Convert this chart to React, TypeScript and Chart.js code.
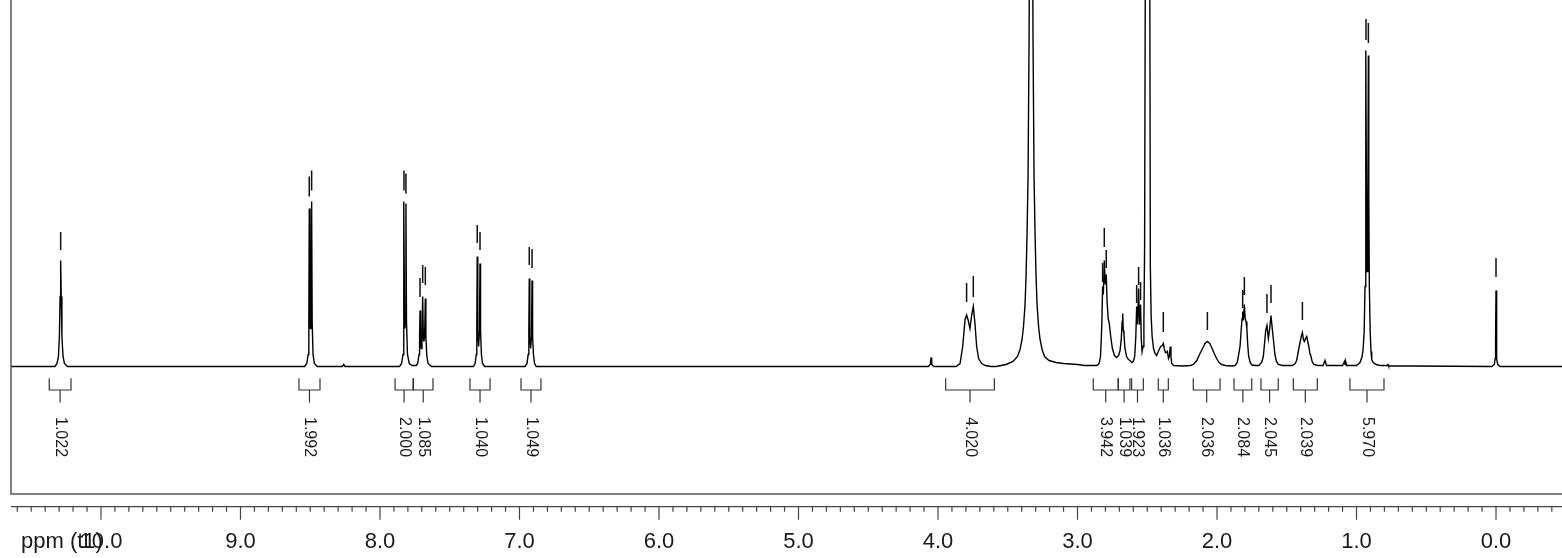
import { useEffect, useRef } from "react";
import { Chart, registerables } from "chart.js";

Chart.register(...registerables);

// ---- axis range (ppm) ----
const PPM_LEFT = 10.645;
const PPM_RIGHT = -0.473;
const majorTickValues = [10, 9, 8, 7, 6, 5, 4, 3, 2, 1, 0];
const majorTickLabels = ["10.0", "9.0", "8.0", "7.0", "6.0", "5.0", "4.0", "3.0", "2.0", "1.0", "0.0"];
const axisTitle = "ppm (t1)";

// ---- spectrum vertices [ppm, intensity] ----
const seg10: number[][] = [[10.645,0],[10.33,0],[10.315,3],[10.305,10],[10.298,30],[10.293,70],[10.289,106],[10.285,70],[10.28,30],[10.272,10],[10.262,3],[10.24,0]];
const seg85: number[][] = [[8.54,0],[8.525,3],[8.515,12],[8.51,45],[8.507,158],[8.502,45],[8.4985,38],[8.495,45],[8.49,165],[8.486,45],[8.48,12],[8.47,3],[8.45,0],[8.27,0],[8.26,2],[8.25,0]];
const seg78: number[][] = [[7.86,0],[7.845,3],[7.835,12],[7.831,45],[7.828,165],[7.824,45],[7.821,38],[7.818,45],[7.814,163],[7.81,45],[7.803,12],[7.79,3],[7.77,1],[7.74,1],[7.73,3],[7.72,12],[7.716,30],[7.713,56],[7.709,25],[7.704,18],[7.699,30],[7.694,70],[7.689,28],[7.685,25],[7.68,30],[7.675,68],[7.671,30],[7.664,10],[7.655,3],[7.63,0]];
const seg73: number[][] = [[7.33,0],[7.318,3],[7.31,12],[7.306,40],[7.303,110],[7.299,35],[7.293,20],[7.287,35],[7.283,103],[7.279,35],[7.273,12],[7.265,3],[7.25,0]];
const seg69: number[][] = [[6.96,0],[6.946,3],[6.938,12],[6.933,35],[6.93,88],[6.926,30],[6.92,18],[6.914,30],[6.91,86],[6.906,30],[6.9,12],[6.892,3],[6.88,0]];
const seg38: number[][] = [[4.07,0],[4.055,2],[4.05,9],[4.045,2],[4.03,0],[3.87,0],[3.842,3],[3.823,20],[3.806,47],[3.795,51.5],[3.783,46],[3.771,38],[3.759,51],[3.747,60],[3.735,43],[3.723,20],[3.709,8],[3.687,3],[3.66,1],[3.62,0]];
const segWater: number[][] = [[3.583,0],[3.512,2],[3.462,5],[3.43,10],[3.412,17],[3.3975,27],[3.387,40],[3.376,62],[3.369,90],[3.362,130],[3.3545,190],[3.347,330],[3.34,600],[3.333,900],[3.326,600],[3.319,330],[3.3115,190],[3.304,130],[3.297,90],[3.29,62],[3.279,40],[3.2685,27],[3.254,17],[3.236,10],[3.204,6],[3.154,4],[3.1,3],[3.0,2],[2.95,1]];
const seg28: number[][] = [[2.86,1],[2.845,3],[2.835,10],[2.826,40],[2.82,80],[2.815,72],[2.808,106],[2.801,82],[2.794,92],[2.788,65],[2.78,48],[2.772,43],[2.762,30],[2.75,18],[2.735,11],[2.72,9],[2.705,11],[2.695,16],[2.686,28],[2.68,45],[2.676,53],[2.672,36],[2.667,33],[2.66,18],[2.648,10],[2.635,7],[2.624,6],[2.61,4],[2.6,5],[2.59,10],[2.582,30],[2.576,60],[2.57,42],[2.562,78],[2.556,42],[2.548,62],[2.543,28],[2.537,15],[2.53,20],[2.524,45]];
const segDmso: number[][] = [[2.519,120],[2.514,400],[2.509,1500],[2.498,5000],[2.487,1500],[2.482,400],[2.478,100],[2.472,50],[2.465,30],[2.455,18],[2.444,13],[2.433,11],[2.421,15],[2.404,20],[2.392,21],[2.385,23],[2.378,18],[2.37,14],[2.362,14],[2.356,15],[2.348,8],[2.342,10],[2.335,20],[2.33,10],[2.325,3],[2.31,1],[2.25,0.5]];
const seg20: number[][] = [[2.19,1],[2.17,2],[2.145,6],[2.122,13],[2.1,19],[2.086,23],[2.069,25],[2.052,23],[2.038,19],[2.02,13],[2.003,8],[1.985,4],[1.966,2],[1.94,1],[1.9,0.5]];
const seg18: number[][] = [[1.87,1],[1.855,4],[1.847,10],[1.835,20],[1.826,38],[1.82,48],[1.816,55],[1.811,46],[1.804,62],[1.798,48],[1.792,45],[1.786,38],[1.78,22],[1.773,10],[1.762,4],[1.75,1.5],[1.72,1]];
const seg16: number[][] = [[1.7,1],[1.68,4],[1.668,10],[1.658,25],[1.651,36],[1.642,41],[1.632,28],[1.622,38],[1.613,51],[1.604,38],[1.595,26],[1.585,12],[1.574,5],[1.56,2],[1.53,1]];
const seg14: number[][] = [[1.46,1],[1.44,3],[1.429,6],[1.417,15],[1.405,24],[1.394,31],[1.388,34],[1.38,27],[1.374,25],[1.365,28],[1.357,30],[1.348,24],[1.342,20],[1.334,13],[1.328,11],[1.318,5],[1.305,2],[1.28,1],[1.24,1],[1.226,6],[1.215,1],[1.1,1],[1.086,5],[1.082,2],[1.078,5],[1.07,1]];
const seg09: number[][] = [[1.0,1],[0.975,4],[0.96,10],[0.953,17],[0.945,35],[0.939,80],[0.935,180],[0.932,316],[0.928,150],[0.9235,95],[0.919,150],[0.915,311],[0.912,170],[0.908,80],[0.902,35],[0.896,15],[0.891,7],[0.88,4],[0.86,2],[0.83,1],[0.78,1],[0.774,2],[0.77,0.5],[0.6,0.5]];
const seg00: number[][] = [[0.03,0],[0.012,2],[0.006,8],[0.003,30],[0.0,76],[-0.003,30],[-0.006,8],[-0.012,2],[-0.03,0],[-0.473,0]];

// ---- peak-pick marks [ppm, bottom, top] ----
const peakMarks: number[][] = [
  [10.289,116.5,134.5],
  [8.507,170,190],[8.49,176,196],
  [7.828,176,196],[7.814,173,193],
  [7.713,69.5,88.5],[7.694,83.5,101.5],[7.675,81.5,99.5],
  [7.303,123.5,141.5],[7.283,116.5,134.5],
  [6.93,101.5,119.5],[6.91,98.5,117.5],
  [3.795,64.5,83.5],[3.747,69.5,90.5],
  [2.82,84.5,103.5],[2.808,119.5,138.5],[2.794,98.5,116.5],
  [2.576,63.5,81.5],[2.562,81.5,99.5],[2.548,66.5,84.5],
  [2.385,34.5,54.5],
  [2.069,36.5,54.5],
  [1.816,58.5,76.5],[1.804,71.5,89.5],
  [1.642,53.5,72.5],[1.613,63.5,81.5],
  [1.388,46.5,64.5],
  [0.932,326.5,347.5],[0.915,323.5,343.5],
  [0.0,89.5,108.5],
];

// ---- integrals ----
const integralFrom = [10.371, 8.581, 7.892, 7.760, 7.355, 6.989, 3.945, 2.887, 2.708, 2.612, 2.421, 2.170, 1.878, 1.685, 1.453, 1.047];
const integralTo   = [10.215, 8.430, 7.763, 7.620, 7.211, 6.846, 3.596, 2.708, 2.624, 2.528, 2.349, 1.978, 1.751, 1.561, 1.281, 0.803];
const integralLabels = ["1.022", "1.992", "2.000", "1.085", "1.040", "1.049", "4.020", "3.942", "1.039", "1.923", "1.036", "2.036", "2.084", "2.045", "2.039", "5.970"];

const spectrum = [
  ...seg10, ...seg85, ...seg78, ...seg73, ...seg69, ...seg38, ...segWater,
  ...seg28, ...segDmso, ...seg20, ...seg18, ...seg16, ...seg14, ...seg09, ...seg00,
].map(([x, y]) => ({ x, y }));

const FONT = '"Liberation Sans", Arial, Helvetica, sans-serif';

const overlayPlugin = {
  id: "nmrOverlay",
  afterDraw(chart: any) {
    const ctx: CanvasRenderingContext2D = chart.ctx;
    const xs = chart.scales.x;
    const ys = chart.scales.y;
    const area = chart.chartArea;
    ctx.save();

    // frame (left + bottom)
    ctx.strokeStyle = "#555";
    ctx.lineWidth = 1.5;
    ctx.beginPath();
    ctx.moveTo(area.left, area.top);
    ctx.lineTo(area.left, area.bottom);
    ctx.lineTo(area.right + 2, area.bottom);
    ctx.stroke();

    // peak marks
    ctx.strokeStyle = "#111";
    ctx.lineWidth = 1.5;
    ctx.beginPath();
    for (const [p, lo, hi] of peakMarks) {
      const x = xs.getPixelForValue(p);
      ctx.moveTo(x, ys.getPixelForValue(lo));
      ctx.lineTo(x, ys.getPixelForValue(hi));
    }
    ctx.stroke();

    // integral brackets
    const yb = ys.getPixelForValue(0);
    ctx.strokeStyle = "#333";
    ctx.lineWidth = 1.2;
    ctx.fillStyle = "#1a1a1a";
    ctx.font = `16px ${FONT}`;
    for (let i = 0; i < integralLabels.length; i++) {
      const xl = xs.getPixelForValue(integralFrom[i]);
      const xr = xs.getPixelForValue(integralTo[i]);
      const xm = (xl + xr) / 2;
      ctx.beginPath();
      ctx.moveTo(xl, yb + 11.8);
      ctx.lineTo(xl, yb + 23.5);
      ctx.lineTo(xr, yb + 23.5);
      ctx.lineTo(xr, yb + 11.8);
      ctx.moveTo(xm, yb + 23.5);
      ctx.lineTo(xm, yb + 36);
      ctx.stroke();
      ctx.save();
      ctx.translate(xm, yb + 50.5);
      ctx.rotate(Math.PI / 2);
      ctx.textAlign = "left";
      ctx.textBaseline = "middle";
      ctx.fillText(integralLabels[i], 0, 0);
      ctx.restore();
    }

    // x axis
    const axisY = area.bottom + 12.7;
    ctx.strokeStyle = "#444";
    ctx.lineWidth = 1.2;
    ctx.beginPath();
    ctx.moveTo(area.left, axisY);
    ctx.lineTo(area.right + 2, axisY);
    for (let i = -4; i <= 106; i++) {
      const v = i / 10;
      const x = xs.getPixelForValue(v);
      if (x < area.left || x > area.right + 1) continue;
      const major = i % 10 === 0;
      ctx.moveTo(x, axisY);
      ctx.lineTo(x, axisY + (major ? 13 : 5));
    }
    ctx.stroke();

    ctx.fillStyle = "#1a1a1a";
    ctx.font = `22px ${FONT}`;
    ctx.textAlign = "center";
    ctx.textBaseline = "middle";
    majorTickValues.forEach((v, i) => {
      ctx.fillText(majorTickLabels[i], xs.getPixelForValue(v), axisY + 35);
    });
    ctx.textAlign = "left";
    ctx.fillText(axisTitle, 21, axisY + 35);

    ctx.restore();
  },
};

export default function App() {
  const ref = useRef<HTMLCanvasElement | null>(null);
  useEffect(() => {
    if (!ref.current) return;
    const chart = new Chart(ref.current, {
      type: "line",
      data: {
        datasets: [
          {
            data: spectrum,
            borderColor: "#000",
            borderWidth: 1.4,
            pointRadius: 0,
            fill: false,
            tension: 0,
          },
        ],
      },
      options: {
        responsive: false,
        animation: false,
        devicePixelRatio: 1,
        layout: { padding: { left: 11, right: 0, top: 0, bottom: 64 } },
        plugins: { legend: { display: false }, tooltip: { enabled: false } },
        events: [],
        scales: {
          x: { type: "linear", reverse: true, min: PPM_RIGHT, max: PPM_LEFT, display: false },
          y: { type: "linear", min: -127.5, max: 366.5, display: false },
        },
      },
      plugins: [overlayPlugin],
    });
    return () => chart.destroy();
  }, []);
  return (
    <div style={{ position: "absolute", left: 0, top: 0, width: 1562, height: 558, background: "#fff" }}>
      <canvas ref={ref} width={1562} height={558} style={{ display: "block" }} />
    </div>
  );
}
